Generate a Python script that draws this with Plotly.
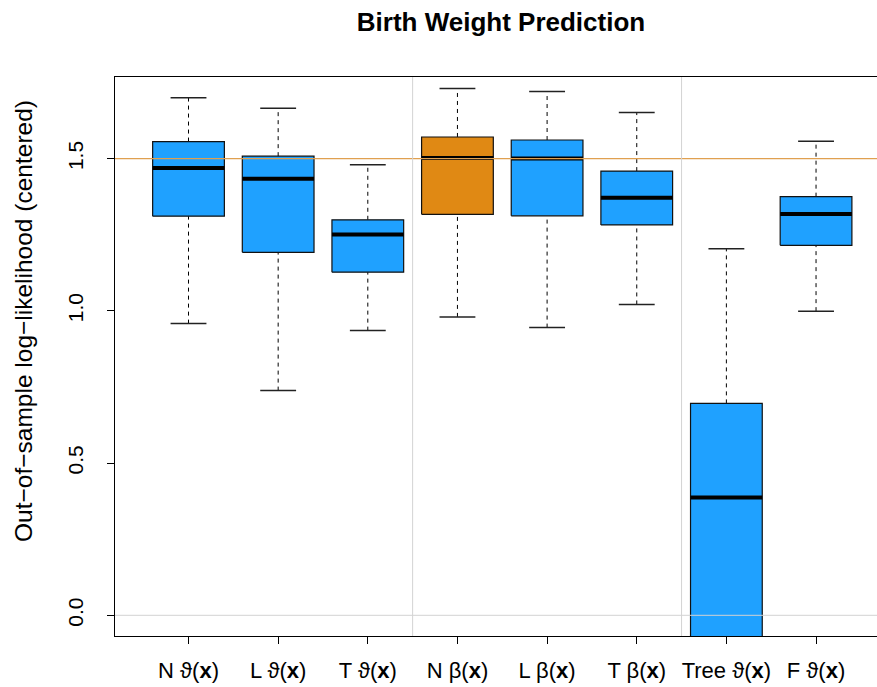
import plotly.graph_objects as go

# box statistics (lower whisker, Q1, median, Q3, upper whisker)
methods = ['N ϑ(<b>x</b>)', 'L ϑ(<b>x</b>)', 'T ϑ(<b>x</b>)', 'N β(<b>x</b>)',
           'L β(<b>x</b>)', 'T β(<b>x</b>)', 'Tree ϑ(<b>x</b>)', 'F ϑ(<b>x</b>)']
lower_whisker = [0.958, 0.738, 0.935, 0.980, 0.945, 1.021, -1.100, 0.999]
q1 = [1.311, 1.192, 1.127, 1.317, 1.312, 1.282, -0.300, 1.215]
median = [1.469, 1.434, 1.251, 1.502, 1.500, 1.371, 0.387, 1.318]
q3 = [1.556, 1.508, 1.299, 1.571, 1.561, 1.459, 0.696, 1.375]
upper_whisker = [1.700, 1.665, 1.480, 1.730, 1.720, 1.651, 1.204, 1.557]
highlight = 'N β(<b>x</b>)'

reference_level = 1.5
group_breaks = [3.5, 6.5]
y_tick_vals = [0.0, 0.5, 1.0, 1.5]
y_tick_text = ['0.0', '0.5', '1.0', '1.5']

BLUE = '#1FA1FF'
ORANGE = '#E08914'
BOX_HALF = 0.4
CAP_HALF = 0.2
FONT = 'Liberation Sans, Arial, DejaVu Sans'

fig = go.Figure()
for i, name in enumerate(methods):
    x = i + 1
    color = ORANGE if name == highlight else BLUE
    # dashed whiskers
    fig.add_trace(go.Scatter(
        x=[x, x, None, x, x],
        y=[lower_whisker[i], q1[i], None, q3[i], upper_whisker[i]],
        mode='lines', line=dict(color='black', width=1, dash='4px,4px'),
        showlegend=False, hoverinfo='skip'))
    # staples
    fig.add_trace(go.Scatter(
        x=[x - CAP_HALF, x + CAP_HALF, None, x - CAP_HALF, x + CAP_HALF],
        y=[lower_whisker[i], lower_whisker[i], None, upper_whisker[i], upper_whisker[i]],
        mode='lines', line=dict(color='#222222', width=1.5),
        showlegend=False, hoverinfo='skip'))
    # box
    fig.add_trace(go.Scatter(
        x=[x - BOX_HALF, x + BOX_HALF, x + BOX_HALF, x - BOX_HALF, x - BOX_HALF],
        y=[q1[i], q1[i], q3[i], q3[i], q1[i]],
        mode='lines', fill='toself', fillcolor=color,
        line=dict(color='#111111', width=1.2),
        showlegend=False, hoverinfo='skip'))
    # median
    fig.add_trace(go.Scatter(
        x=[x - BOX_HALF, x + BOX_HALF], y=[median[i], median[i]],
        mode='lines', line=dict(color='black', width=4),
        showlegend=False, name=name,
        hovertemplate=f'median: %{{y:.3f}}<extra>{name}</extra>'))

# reference lines drawn over the boxes
fig.add_hline(y=0, line=dict(color='#D3D3D3', width=1))
fig.add_hline(y=reference_level, line=dict(color='#E0A050', width=1.2))
for b in group_breaks:
    fig.add_vline(x=b, line=dict(color='#D3D3D3', width=1))

fig.update_xaxes(
    range=[0.18, 8.68], tickvals=list(range(1, len(methods) + 1)), ticktext=methods,
    showgrid=False, zeroline=False, showline=True, mirror=True,
    linecolor='black', linewidth=1, ticks='outside', ticklen=7, tickcolor='black',
    ticklabelstandoff=8,
    tickfont=dict(family=FONT, size=22, color='black'))
fig.update_yaxes(
    range=[-0.068, 1.768], tickvals=y_tick_vals, ticktext=y_tick_text, tickangle=-90,
    showgrid=False, zeroline=False, showline=True, mirror=False,
    linecolor='black', linewidth=1, ticks='outside', ticklen=7, tickcolor='black',
    ticklabelstandoff=16,
    tickfont=dict(family=FONT, size=21, color='black'))

fig.add_annotation(
    text='Out−of−sample log−likelihood (centered)', textangle=-90,
    xref='paper', yref='paper', x=0, y=(636 - 321) / 559, xshift=-92,
    xanchor='center', yanchor='middle',
    showarrow=False, font=dict(family=FONT, size=24.5, color='black'))

fig.update_layout(
    title=dict(text='<b>Birth Weight Prediction</b>', x=501 / 877, xanchor='center',
               y=1 - 22 / 687, yanchor='middle',
               font=dict(family=FONT, size=26, color='black')),
    width=877, height=687,
    margin=dict(l=115, r=0, t=77, b=51),
    plot_bgcolor='white', paper_bgcolor='white',
)

fig.write_html("out.html", config={'displayModeBar': False},
               post_script="document.body.style.margin='0px';")
